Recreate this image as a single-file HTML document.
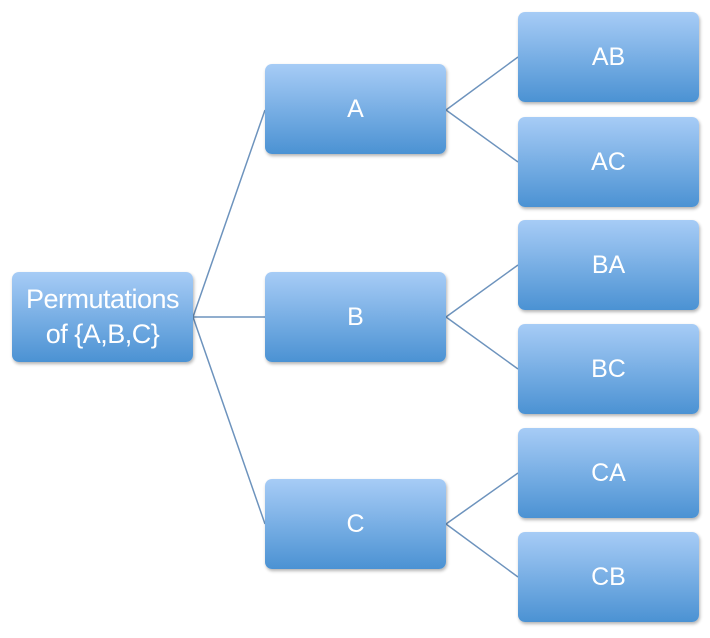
<!DOCTYPE html>
<html><head><style>
body{margin:0;width:710px;height:638px;background:#fff;position:relative;overflow:hidden;font-family:"Liberation Sans",sans-serif}
.b{position:absolute;width:181px;height:90px;border-radius:7px;background:linear-gradient(#a7ccf6,#4b92d3);box-shadow:1px 2px 3px rgba(0,0,0,0.3);color:#fff;font-size:25px;display:flex;align-items:center;justify-content:center;text-align:center;line-height:35px}
svg{position:absolute;left:0;top:0}
</style></head><body>
<svg width="710" height="638"><g stroke="#6d93bd" stroke-width="1.5" fill="none">
<path d="M193 317L265 110M193 317L265 317M193 317L265 524"/>
<path d="M446 110L518 57M446 110L518 162"/>
<path d="M446 317L518 265M446 317L518 369"/>
<path d="M446 524L518 473M446 524L518 577"/>
</g></svg>
<div class="b" style="left:12px;top:272px;font-size:27px;letter-spacing:-0.5px">Permutations<br>of {A,B,C}</div>
<div class="b" style="left:265px;top:64px">A</div>
<div class="b" style="left:265px;top:272px">B</div>
<div class="b" style="left:265px;top:479px">C</div>
<div class="b" style="left:518px;top:12px">AB</div>
<div class="b" style="left:518px;top:117px">AC</div>
<div class="b" style="left:518px;top:220px">BA</div>
<div class="b" style="left:518px;top:324px">BC</div>
<div class="b" style="left:518px;top:428px">CA</div>
<div class="b" style="left:518px;top:532px">CB</div>
</body></html>
